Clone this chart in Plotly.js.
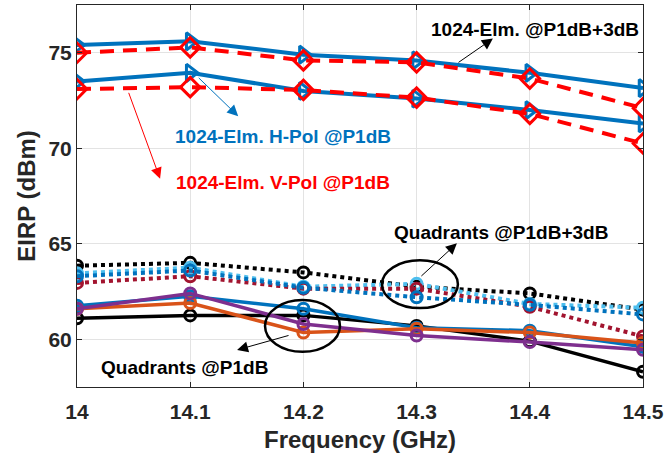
<!DOCTYPE html>
<html>
<head>
<meta charset="utf-8">
<script src="https://cdn.plot.ly/plotly-3.0.1.min.js"></script>
<style>
  html, body { margin: 0; padding: 0; background: #fff; }
  #chart { width: 667px; height: 462px; }
</style>
</head>
<body>
<div id="chart"></div>
<script>
// Frequency points (GHz)
const freq = [14, 14.1, 14.2, 14.3, 14.4, 14.5];
const tickLabels = ['14', '14.1', '14.2', '14.3', '14.4', '14.5'];

// 1024-element array, EIRP (dBm)
const hPolP1dB3 = [75.4, 75.6, 74.9, 74.6, 73.95, 73.15];
const vPolP1dB3 = [75.0, 75.28, 74.6, 74.5, 73.65, 72.1];
const hPolP1dB  = [73.5, 73.95, 73.0, 72.6, 72.0, 71.3];
const vPolP1dB  = [73.1, 73.2, 73.05, 72.65, 71.8, 70.25];

// Quadrants @P1dB+3dB, EIRP (dBm)
const quadBlackP3  = [63.85, 64.0, 63.5, 62.75, 62.4, 61.55];
const quadLBlueP3  = [63.45, 63.75, 62.75, 62.9, 61.85, 61.65];
const quadBlueP3   = [63.3, 63.6, 62.7, 62.2, 61.8, 61.3];
const quadRedP3    = [62.95, 63.3, 62.65, 62.65, 61.7, 60.15];

// Quadrants @P1dB, EIRP (dBm)
const quadBlackP1  = [61.1, 61.25, 61.25, 60.7, 59.9, 58.3];
const quadBlueP1   = [61.75, 62.25, 61.6, 60.6, 60.45, 59.6];
const quadOrangeP1 = [61.6, 61.9, 60.35, 60.55, 60.35, 59.8];
const quadPurpleP1 = [61.6, 62.4, 60.8, 60.2, 59.85, 59.45];

const BLUE = '#0072BD', RED = '#FF0000', LBLUE = '#4DBEEE',
      DRED = '#A2142F', ORANGE = '#D95319', PURPLE = '#7E2F8E', BLACK = '#000000';

function quadTrace(y, color, dash) {
  return {
    x: freq, y: y, type: 'scatter', mode: 'lines+markers',
    line: { color: color, width: dash ? 4 : 3.5, dash: dash || 'solid' },
    marker: { symbol: 'circle-open', size: 11, color: color, line: { width: 3, color: color } },
    hoverinfo: 'x+y'
  };
}

function arrayTrace(y, color, symbol, dash) {
  return {
    x: freq, y: y, type: 'scatter', mode: 'lines+markers',
    line: { color: color, width: 4, dash: dash },
    marker: { symbol: symbol, size: 15, color: color, line: { width: 3, color: color } },
    hoverinfo: 'x+y'
  };
}

const traces = [
  quadTrace(quadBlackP3, BLACK, 'dot'),
  quadTrace(quadLBlueP3, LBLUE, 'dot'),
  quadTrace(quadRedP3, DRED, 'dot'),
  quadTrace(quadBlueP3, BLUE, 'dot'),
  quadTrace(quadBlackP1, BLACK),
  quadTrace(quadBlueP1, BLUE),
  quadTrace(quadOrangeP1, ORANGE),
  quadTrace(quadPurpleP1, PURPLE),
  arrayTrace(hPolP1dB3, BLUE, 'triangle-right-open', 'solid'),
  arrayTrace(hPolP1dB, BLUE, 'triangle-right-open', 'solid'),
  arrayTrace(vPolP1dB3, RED, 'diamond-open', '14px,9px'),
  arrayTrace(vPolP1dB, RED, 'diamond-open', '14px,9px')
];

const FONT = 'Liberation Sans, Arial, sans-serif';

function label(text, x, y, color) {
  return { text: '<b>' + text + '</b>', x: x, y: y, xref: 'x', yref: 'y', showarrow: false,
           font: { family: FONT, size: 19, color: color } };
}
function arrow(x0, y0, x1, y1, color) {
  return { text: '', x: x1, y: y1, ax: x0, ay: y0, xref: 'x', yref: 'y', axref: 'x', ayref: 'y',
           showarrow: true, arrowhead: 2, arrowsize: 2.2, arrowwidth: 1, arrowcolor: color,
           standoff: 0, startstandoff: 0 };
}

const annotations = [
  label('1024-Elm. @P1dB+3dB', 14.4044, 76.21, BLACK),
  arrow(14.3357, 74.44, 14.3674, 75.74, BLACK),
  label('1024-Elm. H-Pol @P1dB', 14.1816, 70.64, BLUE),
  arrow(14.1062, 73.76, 14.1424, 71.68, BLUE),
  label('1024-Elm. V-Pol @P1dB', 14.1816, 68.19, RED),
  arrow(14.0452, 72.98, 14.0734, 68.4, RED),
  label('Quadrants @P1dB+3dB', 14.3744, 65.59, BLACK),
  arrow(14.3029, 63.24, 14.3356, 65.02, BLACK),
  label('Quadrants @P1dB', 14.0951, 58.5, BLACK),
  arrow(14.1882, 60.22, 14.1414, 59.44, BLACK)
];

const shapes = [
  { type: 'circle', xref: 'x', yref: 'y', x0: 14.2694, x1: 14.3365, y0: 61.63, y1: 64.13,
    line: { color: BLACK, width: 2.5 } },
  { type: 'circle', xref: 'x', yref: 'y', x0: 14.1661, x1: 14.2323, y0: 59.34, y1: 62.05,
    line: { color: BLACK, width: 2.5 } }
];

const axisCommon = {
  showline: true, linecolor: '#262626', linewidth: 1, mirror: 'ticks',
  ticks: 'inside', ticklen: 5, tickcolor: '#262626',
  showgrid: true, gridcolor: '#e3e3e3', gridwidth: 1, zeroline: false,
  tickfont: { family: FONT, size: 21, color: '#262626', weight: 'bold' }
};

const layout = {
  width: 667, height: 462,
  margin: { l: 77, r: 24, t: 5, b: 75 },
  paper_bgcolor: '#ffffff', plot_bgcolor: '#ffffff',
  showlegend: false,
  xaxis: Object.assign({}, axisCommon, {
    range: [14, 14.5], tickvals: freq, ticktext: tickLabels,
    ticklabelstandoff: 6,
    title: { text: '<b>Frequency (GHz)</b>', standoff: 8,
             font: { family: FONT, size: 24, color: '#262626' } }
  }),
  yaxis: Object.assign({}, axisCommon, {
    range: [57.5, 77.5], tickvals: [60, 65, 70, 75],
    title: { text: '<b>EIRP (dBm)</b>', standoff: 6,
             font: { family: FONT, size: 24, color: '#262626' } }
  }),
  annotations: annotations,
  shapes: shapes
};

Plotly.newPlot('chart', traces, layout, { staticPlot: true, displayModeBar: false });
</script>
</body>
</html>
